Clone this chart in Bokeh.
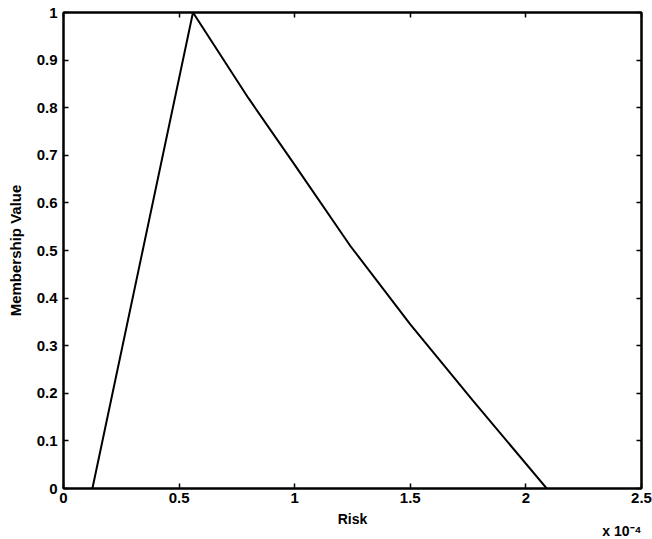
from bokeh.plotting import figure
from bokeh.models import Range1d, FixedTicker, CustomJSTickFormatter, LinearAxis, Title
from bokeh.embed import file_html
from bokeh.resources import INLINE

# Data (risk in absolute units; axis shows multiples of 1e-4)
risk = [0.125e-4, 0.56e-4, 0.8e-4, 1.0e-4, 1.24e-4, 1.5e-4, 1.77e-4, 2.09e-4]
membership = [0.0, 1.0, 0.82, 0.68, 0.51, 0.345, 0.185, 0.0]

x_ticks = [0.0, 0.5e-4, 1.0e-4, 1.5e-4, 2.0e-4, 2.5e-4]
y_ticks = [0.0, 0.1, 0.2, 0.3, 0.4, 0.5, 0.6, 0.7, 0.8, 0.9, 1.0]

FONT = "Liberation Sans"

p = figure(width=652, height=539, output_backend="svg", toolbar_location=None,
           x_range=Range1d(0, 2.5e-4), y_range=Range1d(0, 1),
           min_border_left=63, min_border_right=11, min_border_top=12, min_border_bottom=51)
p.grid.visible = False
p.outline_line_color = "black"
p.outline_line_width = 2
p.background_fill_color = "white"
p.border_fill_color = "white"

p.line(risk, membership, line_color="black", line_width=2)

xfmt = CustomJSTickFormatter(code="const v = Math.round(tick*1e5)/10; return v.toString();")
yfmt = CustomJSTickFormatter(code="return Number(tick.toFixed(1)).toString();")
blank = CustomJSTickFormatter(code="return '';")

def style(ax, labels=True):
    ax.axis_line_color = "black"
    ax.axis_line_width = 2
    ax.major_tick_in = 5
    ax.major_tick_out = 0
    ax.major_tick_line_color = "black"
    ax.major_tick_line_width = 1.5
    ax.minor_tick_line_color = None
    if labels:
        ax.major_label_text_font = FONT
        ax.major_label_text_font_style = "bold"
        ax.major_label_text_font_size = "15px"
        ax.major_label_text_color = "black"
        ax.axis_label_text_font = FONT
        ax.axis_label_text_font_style = "bold"
        ax.axis_label_text_font_size = "14px"
        ax.axis_label_text_color = "black"
    else:
        ax.formatter = blank
        ax.major_label_standoff = 0

xa = p.xaxis[0]
xa.ticker = FixedTicker(ticks=x_ticks)
xa.formatter = xfmt
xa.axis_label = "Risk"
xa.major_label_standoff = 4
xa.axis_label_standoff = 5
style(xa)

ya = p.yaxis[0]
ya.ticker = FixedTicker(ticks=y_ticks)
ya.formatter = yfmt
ya.axis_label = "Membership Value"
ya.major_label_standoff = 6
ya.axis_label_standoff = 10
style(ya)
ya.axis_label_text_font_size = "15px"

ra = LinearAxis(ticker=FixedTicker(ticks=y_ticks))
style(ra, labels=False)
p.add_layout(ra, "right")
ta = LinearAxis(ticker=FixedTicker(ticks=x_ticks))
style(ta, labels=False)
p.add_layout(ta, "above")

p.add_layout(Title(text="x 10\u207b\u2074", align="right", standoff=-18,
                   text_font=FONT, text_font_style="bold", text_font_size="14px",
                   text_color="black"), "below")

open("out.html", "w").write(file_html(p, INLINE))
